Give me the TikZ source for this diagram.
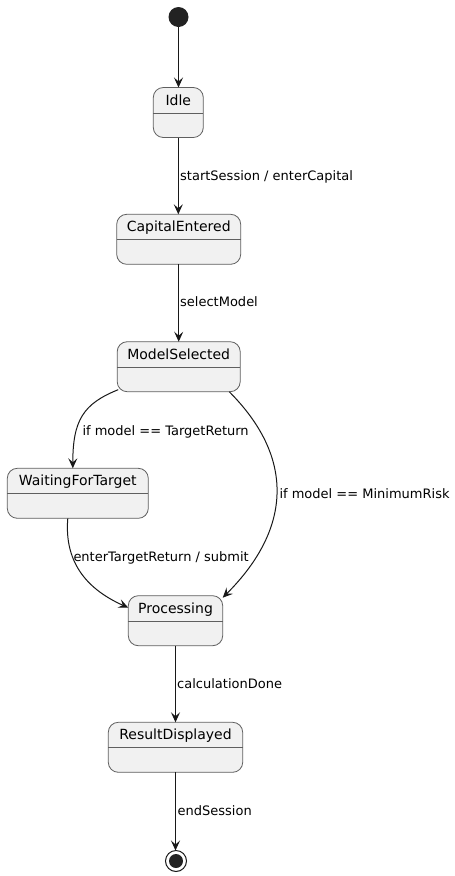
\documentclass[tikz,border=0pt]{standalone}
\usepackage{fontspec}
\setmainfont{DejaVu Sans}
\usetikzlibrary{arrows.meta}
\definecolor{sfill}{HTML}{F1F1F1}
\definecolor{sline}{HTML}{5F5F5F}
\definecolor{ink}{HTML}{181818}
\definecolor{dot}{HTML}{222222}
\newcommand\mkstate[5]{%
  \node[statebox, minimum width=#4pt] (#1) at (#2,#3+25) {};
  \draw[divider] ([yshift=-25.5pt]#1.north west) -- ([yshift=-25.5pt]#1.north east);
  \node[stxt, anchor=base] (#1-t) at ([yshift=-17.6pt]#1.north) {#5};
}
\begin{document}
\begin{tikzpicture}[x=1pt,y=-1pt,
  statebox/.style={draw=sline, line width=0.8pt, fill=sfill, rounded corners=10pt, minimum height=50pt, inner sep=0pt, outer sep=0pt},
  stxt/.style={font=\fontsize{14}{16}\selectfont, inner sep=0pt, text=black},
  lab/.style={font=\fontsize{13}{15}\selectfont, inner sep=0pt, anchor=base west, text=black},
  trans/.style={draw=ink, line width=1pt, -{Stealth[length=10pt,width=9pt,inset=4pt]}},
  divider/.style={draw=sline, line width=0.8pt}]
\useasboundingbox (0,0) rectangle (455,876);

\node[circle, fill=dot, minimum size=20pt, inner sep=0pt, outer sep=0pt] (init) at (178.5,17) {};

\mkstate{idle}{178.3}{87.5}{50}{Idle}
\mkstate{cap}{178.7}{214.3}{124}{CapitalEntered}
\mkstate{model}{178.7}{341.7}{123}{ModelSelected}
\mkstate{waiting}{77.8}{468.3}{141}{WaitingForTarget}
\mkstate{proc}{175.5}{595.7}{94.4}{Processing}
\mkstate{result}{175.5}{722.3}{134.4}{ResultDisplayed}

\node[circle, draw=ink, line width=1pt, minimum size=21pt, inner sep=0pt, outer sep=0pt] (final) at (176,861) {};
\node[circle, fill=dot, minimum size=14pt, inner sep=0pt] (final-dot) at (final.center) {};

\draw[trans] (init) -- (init |- idle.north);
\draw[trans] (idle.south) -- (idle.south |- cap.north);
\draw[trans] (cap.south) -- (cap.south |- model.north);
\draw[trans] ([xshift=1pt,yshift=2pt]model.south west) .. controls +(-35,14) and +(0,-48) .. ([xshift=-5pt]waiting.north);
\draw[trans] ([xshift=-11pt]model.south east) .. controls +(65,65) and +(70,-70) .. ([yshift=-2pt]proc.north east);
\draw[trans] ([xshift=-10pt]waiting.south) .. controls +(-4,47) and +(-38,-17) .. ([yshift=-12pt]proc.north west);
\draw[trans] (proc.south) -- (proc.south |- result.north);
\draw[trans] (result.south) -- (result.south |- final.north);

\node[lab] (l1) at (180,180) {startSession / enterCapital};
\node[lab] (l2) at (180,306) {selectModel};
\node[lab] (l3) at (82.3,435) {if model == TargetReturn};
\node[lab] (l4) at (279.3,498) {if model == MinimumRisk};
\node[lab] (l5) at (73.3,561) {enterTargetReturn / submit};
\node[lab] (l6) at (177,688) {calculationDone};
\node[lab] (l7) at (177.5,815) {endSession};
\end{tikzpicture}
\end{document}
